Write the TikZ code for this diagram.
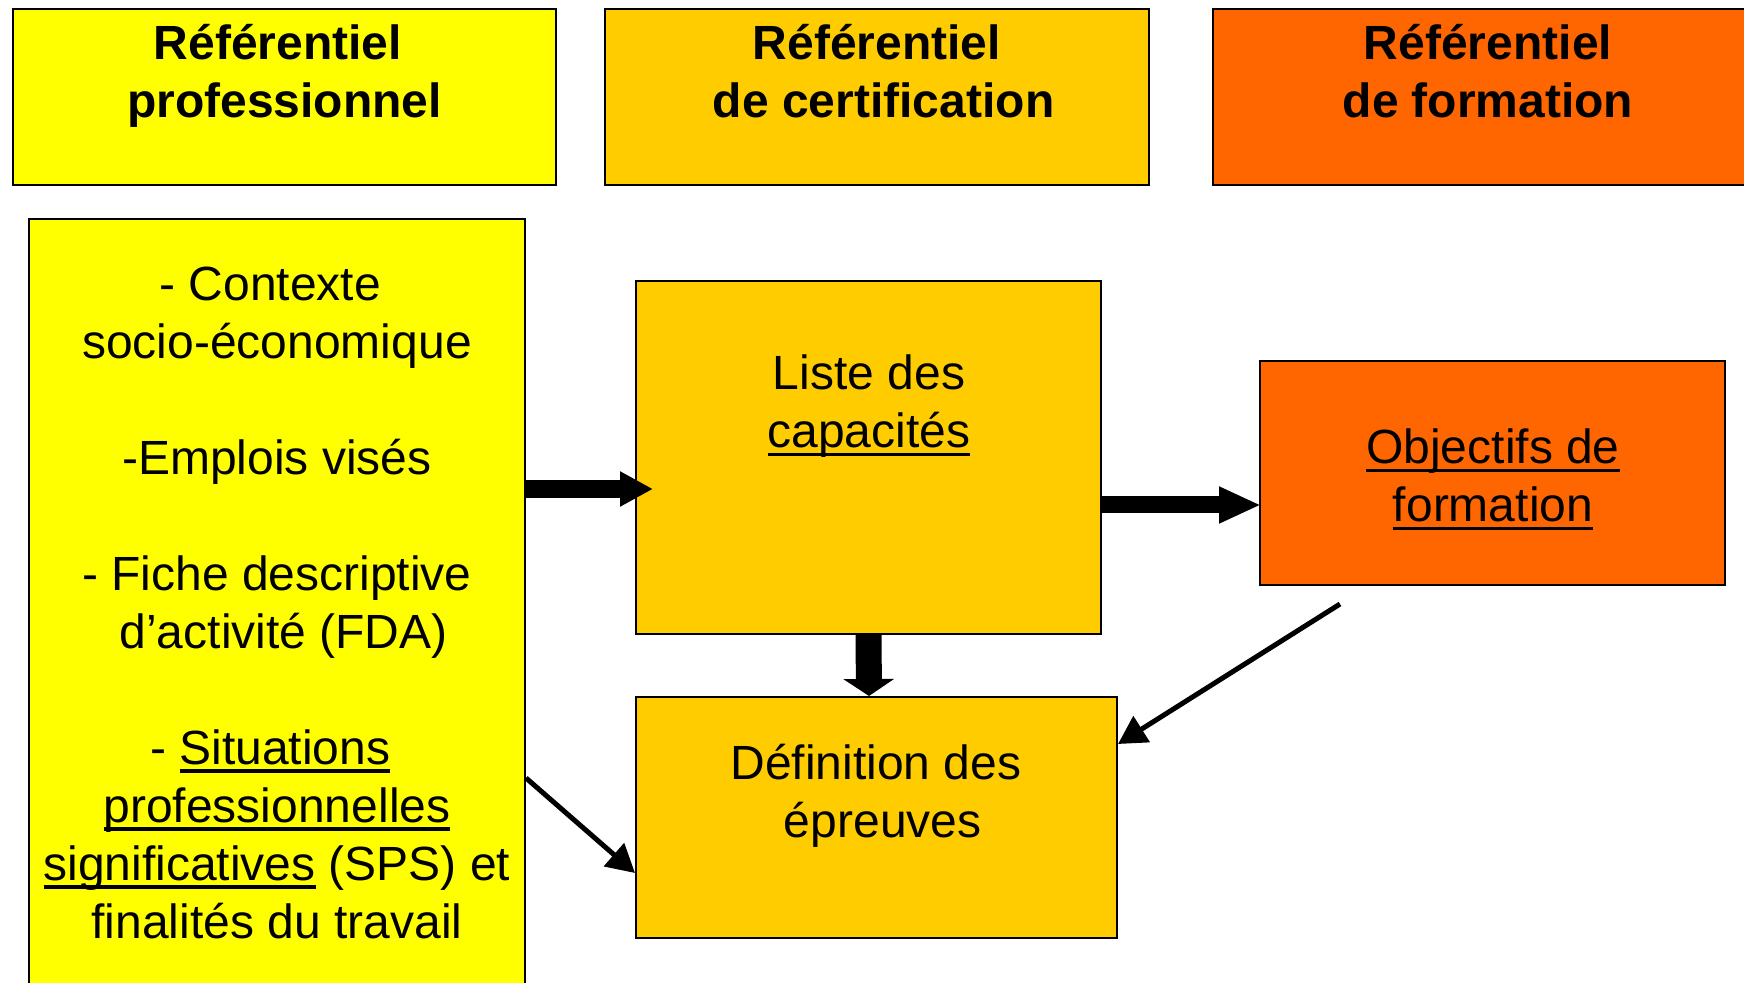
\documentclass[tikz,border=0pt]{standalone}
\usepackage{fontspec}
\setmainfont{Liberation Sans}
\usetikzlibrary{arrows.meta}
\definecolor{jaune}{HTML}{FFFF00}
\definecolor{ocre}{HTML}{FFCC00}
\definecolor{orangef}{HTML}{FF6600}
\newcommand\souligne[1]{\setbox0\hbox{#1}\rlap{\rule[-4pt]{\wd0}{1.6pt}}\box0\relax}
\newcommand\esp{\hspace*{0.278em}}
\tikzset{
  boite/.style={draw, line width=1pt, inner sep=0pt},
  texte/.style={align=center, inner sep=0pt, font=\fontsize{24}{29}\selectfont},
  titre/.style={texte, font=\fontsize{24}{29}\selectfont\bfseries},
  fleche/.style={line width=2.5pt, -{Triangle[width=15pt,length=14pt]}}
}
\begin{document}
\begin{tikzpicture}[x=0.5pt, y=-0.5pt]
  \clip (0,0) rectangle (1744,983);
  \fill[white] (0,0) rectangle (1744,983);
  % les trois referentiels
  \foreach \id / \x / \w / \ty / \coul / \nom in {
      refpro/284.5/271.5/76/jaune/{Référentiel\esp\\professionnel},
      refcert/877/272/71/ocre/{Référentiel\\\esp de certification},
      refform/1488/275/71/orangef/{Référentiel\\de formation}}{
    \node[boite, fill=\coul, minimum width=\w pt, minimum height=88pt] (\id) at (\x, 97) {};
    \node[titre] (t\id) at (\x, \ty) {\nom};
  }
  % les boites
  \node[boite, fill=jaune, minimum width=248pt, minimum height=397pt] (prof) at (277, 616) {};
  \node[boite, fill=ocre, minimum width=232.5pt, minimum height=176.5pt] (liste) at (868.5, 457.5) {};
  \node[boite, fill=ocre, minimum width=240.5pt, minimum height=120.5pt] (def) at (876.5, 817.5) {};
  \node[boite, fill=orangef, minimum width=232.5pt, minimum height=112pt] (obj) at (1492.5, 473) {};
  \node[texte] (tprof) at (277, 603) {- Contexte\esp\\socio-économique\\[29pt]-Emplois visés\\[29pt]- Fiche descriptive\\\esp d’activité (FDA)\\[29pt]\hspace*{-0.278em}- \souligne{Situations}\\\souligne{professionnelles}\\\souligne{significatives} (SPS) et\\finalités du travail};
  \node[texte] (tliste) at (869, 406.5) {Liste des\\\souligne{capacités}};
  \node[texte] (tdef) at (876, 795.5) {Définition des\\\esp épreuves};
  \node[texte] (tobj) at (1493, 479.5) {\souligne{Objectifs de}\\\souligne{formation}};
  % les fleches
  \draw[line width=9pt, -{Triangle[width=16.5pt,length=16.5pt]}] ([yshift=63.5pt]prof.east) -- ([xshift=9pt,yshift=-15.75pt]liste.west);
  \draw[line width=8.5pt, -{Triangle[width=17pt,length=21pt]}] ([yshift=-23.75pt]liste.east) -- ([xshift=1pt,yshift=-16pt]obj.west);
  \draw[line width=13pt, -{Triangle[width=25pt,length=8.5pt]}] (liste.south) -- ([xshift=-3.75pt]def.north);
  \draw[fleche] ([xshift=-76.25pt,yshift=-9pt]obj.south) -- ([yshift=36.75pt]def.east);
  \draw[fleche] ([yshift=-81pt]prof.east) -- ([yshift=-27.75pt]def.west);
\end{tikzpicture}
\end{document}
